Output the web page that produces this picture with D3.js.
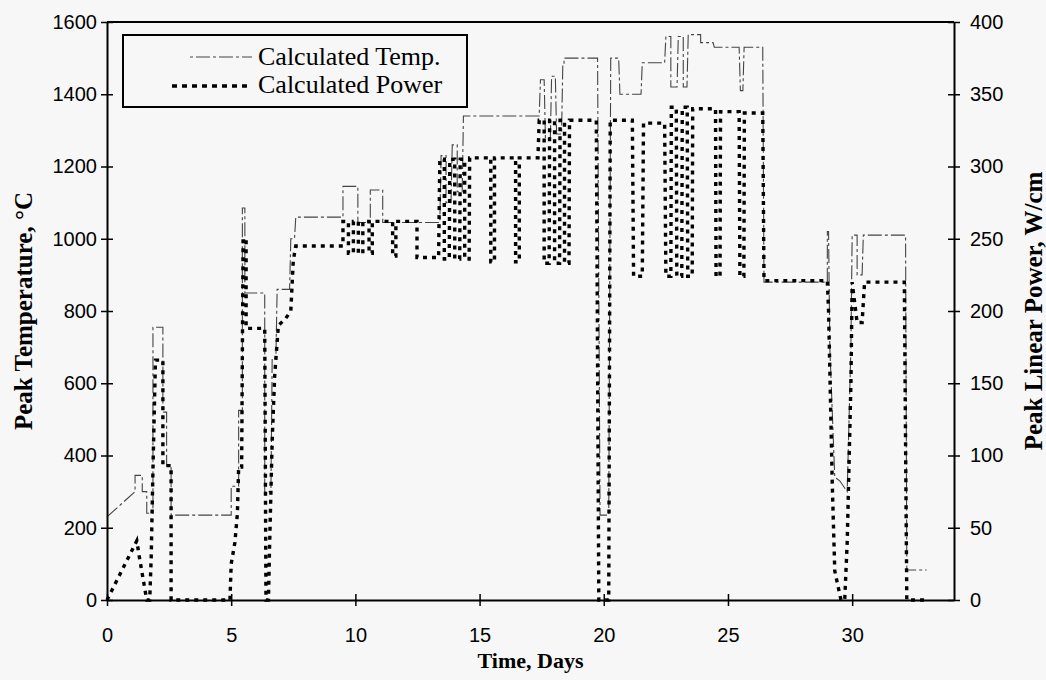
<!DOCTYPE html>
<html><head><meta charset="utf-8">
<script src="https://cdn.jsdelivr.net/npm/d3@7"></script>
<style>
body{margin:0;background:#f7f7f7;}
svg{display:block;}
</style></head>
<body>
<svg id="chart" width="1046" height="680"></svg>
<script>
// ---- data ----
const xTicks = [0,5,10,15,20,25,30];
const tempTicks = [0,200,400,600,800,1000,1200,1400,1600];
const powerTicks = [0,50,100,150,200,250,300,350,400];

// Calculated peak temperature: [time (days), deg C]
const tempSeries = [[0,230],[1.13,300],[1.13,345],[1.42,345],[1.42,300],[1.6,300],[1.6,240],[1.85,240],[1.85,755],[2.25,755],[2.25,520],[2.4,520],[2.4,370],[2.58,370],[2.58,235],[5.0,235],[5.0,315],[5.3,315],[5.3,525],[5.45,525],[5.45,1085],[5.55,1085],[5.55,850],[6.35,850],[6.35,300],[6.6,300],[6.65,670],[6.8,670],[6.85,860],[7.35,860],[7.4,1000],[7.55,1000],[7.6,1060],[9.5,1060],[9.5,1145],[10.1,1145],[10.1,1045],[10.6,1045],[10.6,1135],[11.1,1135],[11.1,1045],[13.4,1045],[13.45,1230],[13.65,1230],[13.65,1100],[13.85,1100],[13.9,1260],[14.1,1260],[14.1,1130],[14.3,1130],[14.35,1340],[17.4,1340],[17.45,1440],[17.6,1440],[17.65,1280],[17.85,1280],[17.9,1450],[18.05,1450],[18.1,1290],[18.3,1290],[18.35,1480],[18.4,1480],[18.4,1500],[19.75,1500],[19.85,235],[20.2,235],[20.28,1500],[20.6,1500],[20.65,1400],[21.5,1400],[21.55,1487],[22.45,1487],[22.5,1560],[22.7,1560],[22.7,1420],[22.95,1420],[23.0,1560],[23.2,1560],[23.2,1420],[23.35,1420],[23.4,1565],[23.9,1565],[23.9,1543],[24.4,1543],[24.45,1530],[25.45,1530],[25.5,1410],[25.6,1410],[25.65,1530],[26.4,1530],[26.45,880],[29.0,880],[29.0,1020],[29.05,1020],[29.1,700],[29.3,340],[29.5,330],[29.8,300],[29.95,700],[30.0,1010],[30.2,1010],[30.2,900],[30.4,900],[30.45,1010],[32.15,1010],[32.2,83],[33.0,83]];

// Calculated peak linear power: [time (days), W/cm]
const powerSeries = [[0,0],[1.2,41],[1.3,30],[1.45,15],[1.6,0],[1.72,0],[1.78,30],[1.85,90],[1.95,166],[2.25,166],[2.25,93],[2.58,93],[2.58,0],[4.95,0],[5.0,25],[5.15,40],[5.25,60],[5.3,92],[5.42,92],[5.48,250],[5.6,250],[5.6,188],[6.35,188],[6.4,0],[6.5,0],[6.55,40],[6.65,110],[6.75,155],[6.9,190],[7.2,195],[7.4,200],[7.5,235],[7.6,245],[9.5,245],[9.5,262],[9.72,262],[9.72,240],[9.92,240],[9.92,262],[10.12,262],[10.12,240],[10.3,240],[10.3,262],[10.55,262],[10.55,240],[10.68,240],[10.68,262],[11.5,262],[11.5,238],[11.63,238],[11.63,262],[12.48,262],[12.48,237],[13.35,237],[13.4,305],[13.58,305],[13.58,236],[13.78,236],[13.8,305],[14.0,305],[14.0,236],[14.2,236],[14.22,305],[14.4,305],[14.4,236],[14.58,236],[14.6,306],[15.45,306],[15.45,234],[15.6,234],[15.6,306],[16.45,306],[16.45,234],[16.6,234],[16.6,306],[17.35,306],[17.4,332],[17.6,332],[17.6,233],[17.8,233],[17.82,332],[18.02,332],[18.02,233],[18.22,233],[18.24,332],[18.42,332],[18.42,233],[18.6,233],[18.62,332],[19.7,332],[19.8,0],[20.2,0],[20.26,332],[21.15,332],[21.2,224],[21.55,224],[21.6,330],[22.45,330],[22.5,224],[22.7,224],[22.72,341],[22.92,341],[22.94,224],[23.14,224],[23.16,341],[23.36,341],[23.38,224],[23.56,224],[23.58,340],[24.5,340],[24.52,224],[24.68,224],[24.7,338],[25.45,338],[25.48,224],[25.64,224],[25.66,337],[26.4,337],[26.45,221],[29.0,221],[29.05,200],[29.2,80],[29.3,20],[29.55,0],[29.7,0],[29.8,40],[29.95,150],[30.0,220],[30.2,192],[30.4,192],[30.5,220],[32.1,220],[32.2,0],[33.0,0]];

// ---- layout ----
const svg = d3.select("#chart");
const L = 107, R = 954, T = 22, B = 600;
const x = d3.scaleLinear().domain([0, 34.1]).range([L, R]);
const yT = d3.scaleLinear().domain([0, 1600]).range([B, T]);
const yP = d3.scaleLinear().domain([0, 400]).range([B, T]);

// series
svg.append("path")
  .attr("d", d3.line().x(d=>x(d[0])).y(d=>yT(d[1]))(tempSeries))
  .attr("fill","none").attr("stroke","#444").attr("stroke-width",1.1)
  .attr("stroke-dasharray","14,3,3,3");
svg.append("path")
  .attr("d", d3.line().x(d=>x(d[0])).y(d=>yP(d[1]))(powerSeries))
  .attr("fill","none").attr("stroke","#000").attr("stroke-width",3.4)
  .attr("stroke-dasharray","4,5");

// frame
svg.append("line").attr("x1",L).attr("x2",R).attr("y1",T).attr("y2",T)
  .attr("stroke","#000").attr("stroke-width",2);

// axes
const tickFont = "Liberation Sans, Arial, sans-serif";
const fmt = d3.format("d");
const gL = svg.append("g").attr("transform",`translate(${L},0)`)
  .call(d3.axisLeft(yT).tickValues(tempTicks).tickFormat(fmt).tickSize(6).tickPadding(4).tickSizeOuter(0));
gL.selectAll(".tick line").attr("x1",-6).attr("x2",6);
const gR = svg.append("g").attr("transform",`translate(${R},0)`)
  .call(d3.axisRight(yP).tickValues(powerTicks).tickFormat(fmt).tickSize(6).tickPadding(10).tickSizeOuter(0));
gR.selectAll(".tick line").attr("x1",-6).attr("x2",6);
const gB = svg.append("g").attr("transform",`translate(0,${B})`)
  .call(d3.axisBottom(x).tickValues(xTicks).tickFormat(fmt).tickSize(6).tickPadding(22).tickSizeOuter(0));
gB.selectAll(".tick line").attr("y1",-6).attr("y2",6);
[gL,gR,gB].forEach(g=>{
  g.selectAll(".domain").attr("stroke","#000").attr("stroke-width",2);
  g.selectAll(".tick line").attr("stroke","#000").attr("stroke-width",1.5);
  g.selectAll("text").attr("font-family",tickFont).attr("font-size",20).attr("fill","#000");
});

// axis titles
const serif = "Liberation Serif, Times New Roman, serif";
svg.append("text").attr("transform",`translate(32,${(T+B)/2}) rotate(-90)`)
  .attr("text-anchor","middle").attr("font-family",serif).attr("font-weight","bold")
  .attr("font-size",25).text("Peak Temperature, °C");
svg.append("text").attr("transform",`translate(1042,${(T+B)/2}) rotate(-90)`)
  .attr("text-anchor","middle").attr("font-family",serif).attr("font-weight","bold")
  .attr("font-size",25).text("Peak Linear Power, W/cm");
svg.append("text").attr("x",(L+R)/2).attr("y",668)
  .attr("text-anchor","middle").attr("font-family",serif).attr("font-weight","bold")
  .attr("font-size",22).text("Time, Days");

// legend
const lg = svg.append("g");
lg.append("rect").attr("x",123).attr("y",35).attr("width",344).attr("height",72)
  .attr("fill","#f7f7f7").attr("stroke","#000").attr("stroke-width",2);
lg.append("line").attr("x1",190).attr("x2",252).attr("y1",57).attr("y2",57)
  .attr("stroke","#444").attr("stroke-width",1.1).attr("stroke-dasharray","3,3,14,3");
lg.append("line").attr("x1",172).attr("x2",252).attr("y1",86).attr("y2",86)
  .attr("stroke","#000").attr("stroke-width",3.4).attr("stroke-dasharray","5,5");
lg.append("text").attr("x",258).attr("y",65).attr("font-family",serif)
  .attr("font-size",26).text("Calculated Temp.");
lg.append("text").attr("x",258).attr("y",93).attr("font-family",serif)
  .attr("font-size",26).text("Calculated Power");
</script>
</body></html>
